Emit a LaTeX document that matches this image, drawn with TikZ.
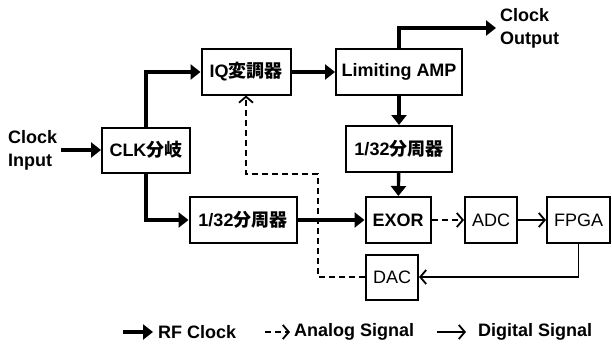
\documentclass[tikz,border=0pt]{standalone}
\usepackage{fontspec}
\setmainfont{Liberation Sans}
\newfontfamily\jpfont{Noto Sans CJK JP}
\newcommand{\jp}[1]{{\jpfont #1}}
\usetikzlibrary{arrows.meta, positioning}
\tikzset{
  every picture/.style={font=\fontsize{18}{23}\selectfont\bfseries},
  blk/.style={draw, line width=2pt, inner sep=2pt, minimum height=45pt, minimum width=#1},
  blk/.default=60pt,
  thin/.style={font=\fontsize{18}{23}\selectfont\mdseries},
  rf/.style={-{Triangle[length=10pt, width=15pt]}, line width=3.4pt},
  ana/.style={-{Straight Barb[length=6pt, width=14pt]}, line width=1.8pt, dash pattern=on 6pt off 4pt},
  dig/.style={-{Straight Barb[length=6pt, width=14pt]}, line width=1.8pt},
  lbl/.style={align=left, inner sep=4pt},
}

\begin{document}
\begin{tikzpicture}[x=1pt, y=-1pt]
  \useasboundingbox (0,0) rectangle (612,345);
  % blocks
  \node[blk=88pt] (clk) at (146,150) {CLK\jp{分岐}};
  \node[blk=89pt] (iq) at (246,72) {IQ\jp{変調器}};
  \node[blk=126pt] (amp) at (399,72) {Limiting AMP};
  \node[blk=106pt, minimum height=46pt] (div1) at (399,149) {1/32\jp{分周器}};
  \node[blk=107pt, minimum height=46pt] (div2) at (243,220) {1/32\jp{分周器}};
  \node[blk=65pt, minimum height=46pt] (exor) at (398,220) {EXOR};
  \node[blk=52pt, minimum height=46pt, thin] (adc) at (491,220) {ADC};
  \node[blk=63pt, minimum height=46pt, thin] (fpga) at (578.5,220) {FPGA};
  \node[blk=52pt, thin] (dac) at (392,277) {DAC};
  \node[lbl, anchor=west] (cin) at (4,150) {Clock\\Input};
  \node[lbl, anchor=west] (cout) at (496,28) {Clock\\Output};
  \coordinate (bend) at (318,174);
  % rf clock
  \draw[rf] (cin.east) -- (clk.west);
  \draw[rf] (clk.north) |- (iq.west);
  \draw[rf] (clk.south) |- (div2.west);
  \draw[rf] (iq) -- (amp);
  \draw[rf] (amp.north) |- (cout.west);
  \draw[rf] (amp) -- (div1);
  \draw[rf] (div1) -- (exor);
  \draw[rf] (div2) -- (exor);
  % analog / digital
  \draw[ana] (exor) -- (adc);
  \draw[dig] (adc) -- (fpga);
  \draw[dig] (fpga.south) |- (dac.east);
  \draw[ana] (dac.west) -| (bend) -| (iq.south);
  % legend
  \coordinate (lrf0) at (123,332);
  \coordinate (lan0) at (265,332);
  \coordinate (ldg0) at (437,332);
  \node[anchor=west, inner sep=5pt] (lrf) at (153,332) {RF Clock};
  \node[anchor=west, inner sep=4pt] (lan) at (290,332) {Analog Signal};
  \node[anchor=west, inner sep=12pt] (ldg) at (466,332) {Digital Signal};
  \draw[rf] (lrf0) -- (lrf.west);
  \draw[ana] (lan0) -- (lan.west);
  \draw[dig] (ldg0) -- (ldg.west);
\end{tikzpicture}
\end{document}
